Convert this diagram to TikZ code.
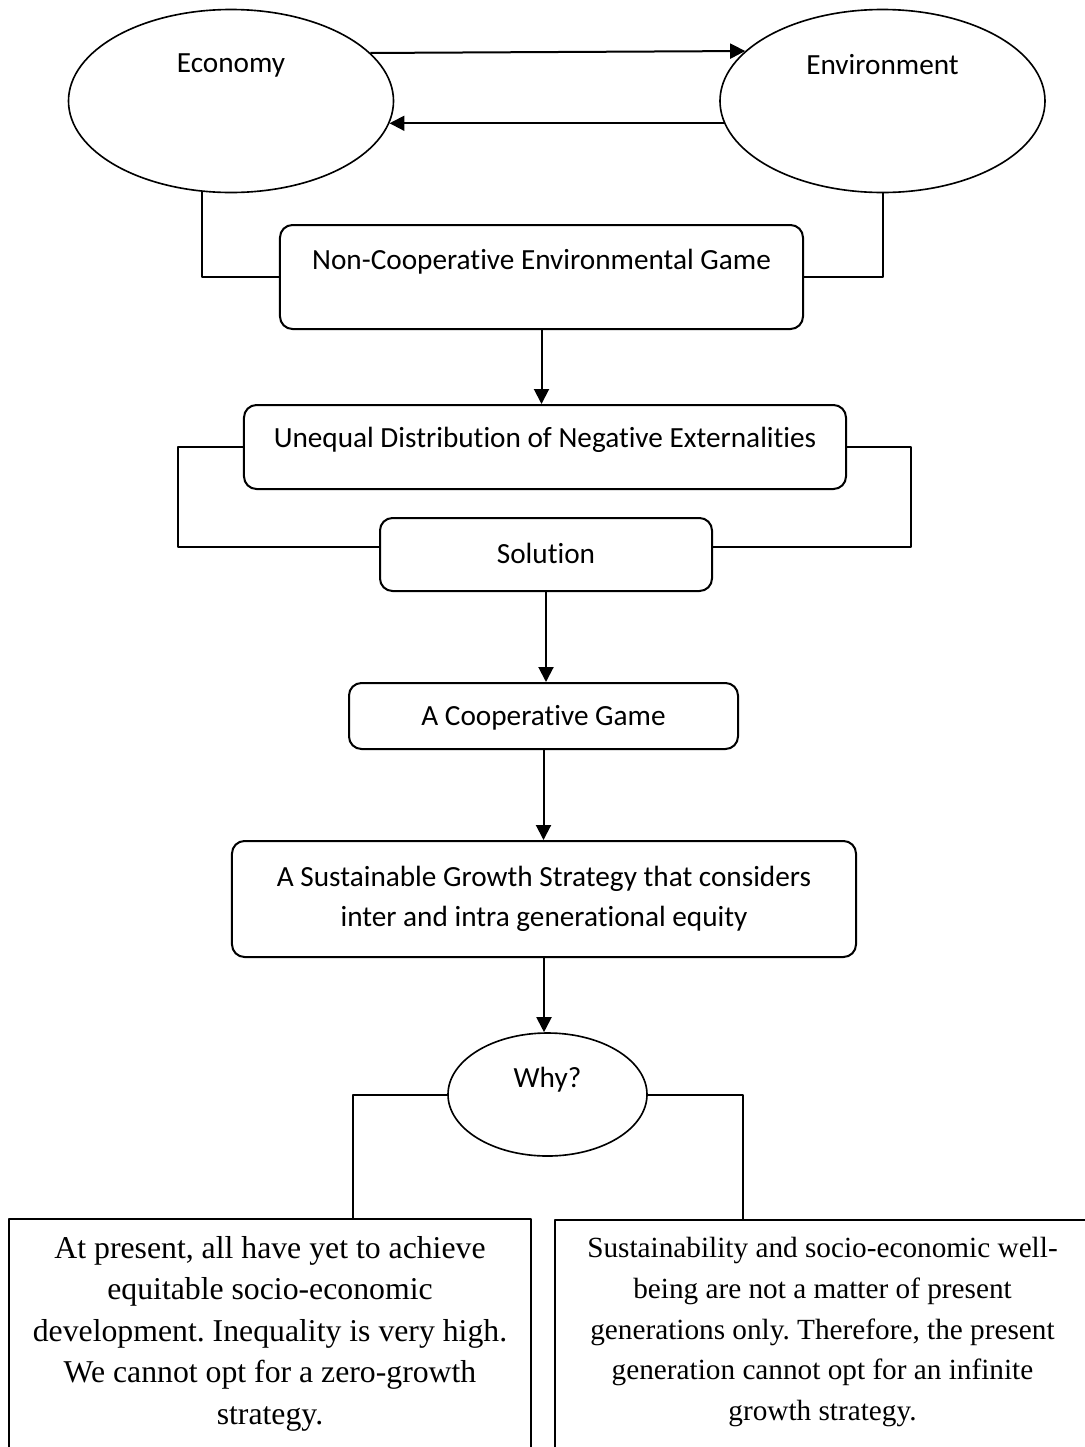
\documentclass[tikz,border=0pt]{standalone}
\usepackage{fontspec}
\setmainfont{Liberation Serif}
\newfontfamily\calib[Ligatures=NoCommon]{Carlito}
\usetikzlibrary{shapes.geometric,arrows.meta}
\frenchspacing

\newcommand\sansfnt{\calib\fontsize{11.7}{16}\selectfont}
\newcommand\seriffnt{\fontsize{12.7}{16.6}\selectfont}
\newcommand\seriffntsmall{\fontsize{11.7}{16.3}\selectfont}

\tikzset{
    box/.style={draw, rounded corners=5pt, line width=0.8pt, inner sep=2pt,
        font=\sansfnt, text height=9.2pt, text depth=1.8pt},
    oval/.style={draw, ellipse, line width=0.65pt, inner sep=0pt,
        font=\sansfnt, text height=9.2pt, text depth=1.8pt},
    note/.style={draw, line width=0.8pt, align=center, font=\seriffnt,
        anchor=north, inner xsep=0pt, inner ysep=6.9pt},
    arr/.style={-{Triangle[length=6pt,width=6pt]}, line width=0.8pt},
    link/.style={line width=0.8pt}
}

\begin{document}
\begin{tikzpicture}[
    x=0.4pt,
    y=-0.4pt,
    line join=round
]
    \clip (0,0) rectangle (1085,1447);

    % 两个椭圆
    \node[oval, minimum width=130pt, minimum height=73.2pt, text depth=31.8pt] (econ) at (231,101) {Economy};
    \node[oval, minimum width=130pt, minimum height=73.2pt, text depth=30.8pt] (env) at (882.5,101) {Environment};
    \draw[arr] (econ.19.65) -- (env.160.35);
    \draw[arr] (env.188.7) -- (econ.-8.7);

    % 博弈
    \node[box, minimum width=209.2pt, minimum height=41.6pt, text depth=15.4pt] (noncoop) at (541.5,277) {Non-Cooperative Environmental Game};
    \draw[link] (econ.-108.45) |- (noncoop.west);
    \draw[link] (env.south) |- (noncoop.east);

    % 外部性与解决
    \node[box, minimum width=240.8pt, minimum height=33.6pt, text depth=9pt] (uneq) at (545,447) {Unequal Distribution of Negative Externalities};
    \draw[arr] (noncoop.south) -- (noncoop.south |- uneq.north);

    \node[box, minimum width=132.8pt, minimum height=29.2pt] (sol) at (546,554.5) {Solution};
    \draw[link] (uneq.west) -- ++(-65,0) |- ([yshift=3pt]sol.west);
    \draw[link] (uneq.east) -- ++(64,0) |- ([yshift=3pt]sol.east);

    % 合作博弈
    \node[box, minimum width=155.6pt, minimum height=26.4pt] (coop) at (543.5,716) {A Cooperative Game};
    \draw[arr] (sol.south) -- (sol.south |- coop.north);

    \node[box, align=center, text height=, text depth=, minimum width=249.6pt, minimum height=46.4pt] (sust) at (544,899)
        {A Sustainable Growth Strategy that considers\\ inter and intra generational equity};
    \draw[arr] (coop.south) -- (coop.south |- sust.north);

    % 为什么
    \node[oval, minimum width=79.6pt, minimum height=49.2pt, text depth=15pt] (why) at (547.5,1094.5) {Why?};
    \draw[arr] (sust.south) -- (sust.south |- why.north);

    % 两个说明框
    \node[note, minimum width=208.8pt] (leftnote) at (270,1218)
        {At present, all have yet to achieve\\ equitable socio-economic\\ development. Inequality is very high.\\
         We cannot opt for a zero-growth\\ strategy.\\ \strut};
    \node[note, font=\seriffntsmall, minimum width=214pt] (rightnote) at (822.5,1219)
        {Sustainability and socio-economic well-\\ being are not a matter of present\\ generations only. Therefore, the present\\
         generation cannot opt for an infinite\\ growth strategy.\\ \strut};
    \draw[link] (why.west) -| (353,0 |- leftnote.north);
    \draw[link] (why.east) -| (743,0 |- rightnote.north);

\end{tikzpicture}
\end{document}
